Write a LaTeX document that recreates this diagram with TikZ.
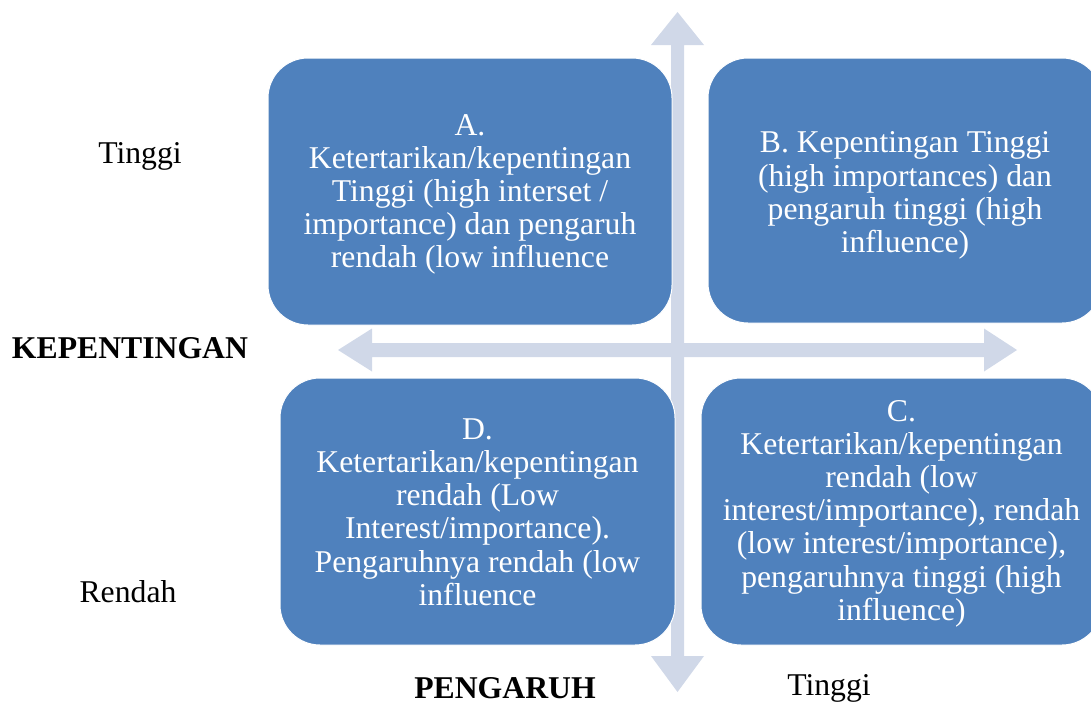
\documentclass[tikz,border=0pt]{standalone}
\usepackage{fontspec}
\setmainfont{Liberation Serif}
\definecolor{boxblue}{HTML}{4F81BD}
\definecolor{arrowgray}{HTML}{D0D8E8}
\begin{document}
\begin{tikzpicture}[x=1pt,y=-1pt,
  quad/.style={fill=boxblue, draw=white, line width=1pt, rounded corners=40pt, inner sep=0pt},
  qtext/.style={text=white, align=center, font=\fontsize{31.7}{33.2}\selectfont, inner sep=0pt},
  lbl/.style={font=\fontsize{31.7}{33.2}\selectfont, text=black, inner sep=0pt}]
\useasboundingbox (0,0) rectangle (1091,704);
% horizontal double arrow
\fill[arrowgray] (338,350) -- (372,328.5) -- (372,343) -- (984,343) -- (984,328.5) -- (1017,350)
  -- (984,371.5) -- (984,357) -- (372,357) -- (372,371.5) -- cycle;
% vertical double arrow
\fill[arrowgray] (677.5,12) -- (704,45) -- (684,45) -- (684,656) -- (704,656) -- (677.5,692)
  -- (651,656) -- (671,656) -- (671,45) -- (651,45) -- cycle;
% quadrants
\node[quad, minimum width=404pt, minimum height=267pt] (A) at (470,191.5) {};
\node[quad, minimum width=394pt, minimum height=265pt] (B) at (905,190.5) {};
\node[quad, minimum width=395pt, minimum height=267pt] (D) at (477.5,511.5) {};
\node[quad, minimum width=401pt, minimum height=267pt] (C) at (901.5,511.5) {};
\node[qtext] (At) at ([yshift=-3pt]A.center)
  {A.\\Ketertarikan/kepentingan\\Tinggi (high interset /\\importance) dan pengaruh\\rendah (low influence};
\node[qtext] (Bt) at ([yshift=-5pt]B.center)
  {B. Kepentingan Tinggi\\(high importances) dan\\pengaruh tinggi (high\\influence)};
\node[qtext] (Dt) at ([yshift=-0.5pt]D.center)
  {D.\\Ketertarikan/kepentingan\\rendah (Low\\Interest/importance).\\Pengaruhnya rendah (low\\influence};
\node[qtext] (Ct) at ([yshift=-2pt]C.center)
  {C.\\Ketertarikan/kepentingan\\rendah (low\\interest/importance), rendah\\(low interest/importance),\\pengaruhnya tinggi (high\\influence)};
% labels
\node[lbl] (t1) at (140,156) {Tinggi};
\node[lbl, font=\fontsize{31.7}{33.2}\selectfont\bfseries] (kep) at (130,348) {KEPENTINGAN};
\node[lbl] (r1) at (128,592) {Rendah};
\node[lbl, font=\fontsize{31.7}{33.2}\selectfont\bfseries] (peng) at (505,688) {PENGARUH};
\node[lbl] (t2) at (829,688.5) {Tinggi};
\end{tikzpicture}
\end{document}
